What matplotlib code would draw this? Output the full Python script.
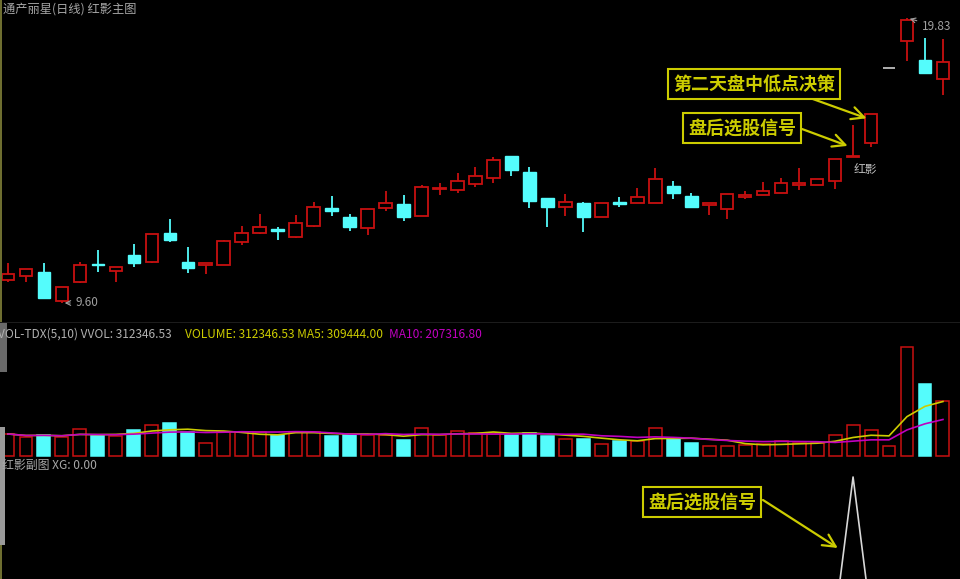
import numpy as np
import pandas as pd
import matplotlib
matplotlib.use('Agg')
import matplotlib.pyplot as plt
from matplotlib.patches import Rectangle

plt.rcParams['font.family'] = ['Noto Sans CJK SC', 'DejaVu Sans']

# daily bars
opens = [10.43, 10.57, 10.71, 9.67, 10.35, 11.01, 10.75, 11.32, 11.07, 12.11,
         11.07, 10.96, 10.96, 11.79, 12.11, 12.26, 11.97, 12.36, 13.01, 12.69,
         12.29, 13.01, 13.15, 12.72, 13.69, 13.66, 13.87, 14.09, 14.88, 14.30,
         13.37, 13.05, 13.19, 12.69, 13.23, 13.19, 13.19, 13.80, 13.44, 13.12,
         12.97, 13.41, 13.48, 13.55, 13.84, 13.84, 13.98, 14.84, 15.34, 18.04,
         19.01, 18.32, 17.64]
highs = [11.04, 10.82, 11.04, 10.17, 11.07, 11.50, 10.89, 11.72, 12.08, 12.62,
         11.61, 11.04, 11.86, 12.36, 12.79, 12.33, 12.76, 13.23, 13.44, 12.79,
         12.97, 13.62, 13.48, 13.84, 13.91, 14.27, 14.48, 14.84, 14.88, 14.48,
         13.37, 13.51, 13.23, 13.19, 13.41, 13.73, 14.45, 13.98, 13.55, 13.19,
         13.51, 13.62, 13.94, 14.09, 14.45, 14.05, 14.77, 15.99, 16.38, 18.04,
         19.83, 19.11, 19.08]
lows = [10.35, 10.35, 9.78, 9.60, 10.32, 10.71, 10.35, 10.89, 11.04, 11.79,
        10.68, 10.64, 10.96, 11.68, 12.08, 11.86, 11.93, 12.33, 12.72, 12.18,
        12.04, 12.90, 12.54, 12.72, 13.48, 13.55, 13.76, 13.91, 14.16, 13.01,
        12.33, 12.72, 12.15, 12.69, 13.05, 13.19, 13.19, 13.33, 13.05, 12.76,
        12.62, 13.33, 13.48, 13.55, 13.66, 13.84, 13.69, 14.84, 15.20, 18.04,
        18.29, 17.86, 17.07]
closes = [10.64, 10.82, 9.78, 10.17, 10.96, 10.96, 10.89, 11.04, 12.08, 11.86,
          10.86, 11.04, 11.83, 12.11, 12.33, 12.18, 12.47, 13.05, 12.90, 12.33,
          12.97, 13.19, 12.69, 13.76, 13.73, 13.98, 14.16, 14.73, 14.37, 13.26,
          13.05, 13.23, 12.69, 13.19, 13.15, 13.41, 14.05, 13.55, 13.05, 13.19,
          13.51, 13.48, 13.62, 13.91, 13.91, 14.05, 14.77, 14.88, 16.38, 18.04,
          19.76, 17.86, 18.25]
volumes = [125000, 108000, 119000, 108000, 153000, 119000, 114000, 148000, 176000, 187000,
           136000, 74000, 136000, 136000, 136000, 119000, 136000, 136000, 114000, 119000,
           119000, 119000, 91000, 159000, 119000, 142000, 131000, 131000, 119000, 131000,
           114000, 97000, 97000, 68000, 85000, 85000, 159000, 102000, 74000, 57000,
           57000, 62000, 68000, 85000, 74000, 74000, 117948, 175000, 148000, 57000,
           620873.47, 409000, 312346.53]
signal_day = 47          # 红影 candle
xg = [0.0] * len(closes)
xg[signal_day] = 1.0

RED = '#c81010'
CYAN = '#54fcfc'
YEL = '#cccc00'
MAG = '#c000c0'
GREY = '#bdbdbd'

n = len(closes)
x = np.arange(n)
o, h, l, c = map(np.array, (opens, highs, lows, closes))
v = np.array(volumes)
up = c >= o
ma5 = pd.Series(v).rolling(5, min_periods=1).mean().values
ma10 = pd.Series(v).rolling(10, min_periods=1).mean().values

W, H = 960, 579
fig = plt.figure(figsize=(W / 100, H / 100), dpi=100, facecolor='black')


def band(top, bottom):
    return [0, 1 - bottom / H, 1, (bottom - top) / H]


def fp(px, py):
    return px / W, 1 - py / H


ax_k = fig.add_axes(band(0, 322))
ax_v = fig.add_axes(band(322, 457))
ax_x = fig.add_axes(band(457, 579))
step, x0 = 17.98, 8
for ax in (ax_k, ax_v, ax_x):
    ax.set_axis_off()
    ax.set_xlim(-x0 / step, (W - x0) / step)

px_price = 10.23 / 285
ax_k.set_ylim(9.60 - 19 * px_price, 19.83 + 18 * px_price)
px_vol = 5680
ax_v.set_ylim(-px_vol, 134 * px_vol)
ax_x.set_ylim((619 - 579) / 142, (619 - 457) / 142)

# ---- candles
bw = 0.7
for i in range(n):
    if h[i] == l[i]:
        ax_k.hlines(c[i], i - bw / 2, i + bw / 2, color=GREY, lw=1.3)
        continue
    if up[i]:
        ax_k.vlines(i, l[i], h[i], color=RED, lw=1.3, zorder=2)
        ax_k.bar(i, max(c[i] - o[i], 0.02), bottom=o[i], width=bw,
                 facecolor='black', edgecolor=RED, lw=1.3, zorder=3)
    else:
        ax_k.vlines(i, l[i], h[i], color=CYAN, lw=1.3, zorder=2)
        ax_k.bar(i, max(o[i] - c[i], 0.02), bottom=c[i], width=bw,
                 facecolor=CYAN, edgecolor=CYAN, lw=1.0, zorder=3)

lo_i, hi_i = int(np.argmin(l)), int(np.argmax(h))
ax_k.annotate(f'{l[lo_i]:.2f}', xy=(lo_i, l[lo_i]), xytext=(10, 0),
              textcoords='offset points', color='#a0a0a0', fontsize=8.5,
              ha='left', va='center',
              arrowprops=dict(arrowstyle='->', color='#a0a0a0', lw=0.8))
ax_k.annotate(f'{h[hi_i]:.2f}', xy=(hi_i, h[hi_i]), xytext=(11, -6),
              textcoords='offset points', color='#a0a0a0', fontsize=8.5,
              ha='left', va='center',
              arrowprops=dict(arrowstyle='->', color='#a0a0a0', lw=0.8))
ax_k.text(signal_day + 0.7, l[signal_day] - 0.45, '红影', color=GREY,
          fontsize=8.5, ha='center', va='center')

# ---- volume
vol_col = [RED if u else CYAN for u in up]
ax_v.bar(x, v, width=0.72, facecolor=['none' if u else CYAN for u in up],
         edgecolor=vol_col, lw=1.1)
ax_v.plot(x, ma5, color=YEL, lw=1.2)
ax_v.plot(x, ma10, color=MAG, lw=1.2)

# ---- XG sub-chart
ax_x.plot(x, xg, color='#d8d8d8', lw=1.2)

# ---- header texts
hs = 8.6
fig.text(*fp(3, 9), '通产丽星(日线) 红影主图', color='#a8a8a8', fontsize=8.8,
         ha='left', va='center')
fig.text(*fp(-2, 334), f'VOL-TDX(5,10) VVOL: {v[-1]:.2f}', color='#b0b0b0',
         fontsize=hs, ha='left', va='center')
fig.text(*fp(185, 334), f'VOLUME: {v[-1]:.2f} MA5: {ma5[-1]:.2f}', color=YEL,
         fontsize=hs, ha='left', va='center')
fig.text(*fp(389, 334), f'MA10: {ma10[-1]:.2f}', color=MAG,
         fontsize=hs, ha='left', va='center')
fig.text(*fp(2, 465), f'红影副图 XG: {xg[-1]:.2f}', color='#a8a8a8',
         fontsize=hs, ha='left', va='center')

# ---- yellow call-outs
box = dict(boxstyle='square,pad=0.3', facecolor='black', edgecolor=YEL, lw=1.5)
arrow = dict(arrowstyle='->,head_length=0.9,head_width=0.45', color=YEL, lw=1.6,
             shrinkA=0, shrinkB=0)
cs = 13
fig.text(*fp(754, 84), '第二天盘中低点决策', color=YEL, fontsize=cs,
         fontweight='bold', ha='center', va='center', bbox=box)
fig.text(*fp(742, 128), '盘后选股信号', color=YEL, fontsize=cs,
         fontweight='bold', ha='center', va='center', bbox=box)
fig.text(*fp(702, 502), '盘后选股信号', color=YEL, fontsize=cs,
         fontweight='bold', ha='center', va='center', bbox=box)
ax_k.annotate('', xy=(signal_day + 1 - 0.25, c[signal_day + 1] - 0.15),
              xytext=(810, H - 98), textcoords='figure pixels', arrowprops=arrow)
ax_k.annotate('', xy=(signal_day - 0.3, h[signal_day] - 0.75),
              xytext=(802, H - 129), textcoords='figure pixels', arrowprops=arrow)
ax_x.annotate('', xy=(signal_day - 0.85, 0.5),
              xytext=(763, H - 500), textcoords='figure pixels', arrowprops=arrow)

# ---- window chrome on the left edge
fig.add_artist(Rectangle(fp(0, 322), 2 / W, 322 / H, transform=fig.transFigure,
                         color='#6e6e30', lw=0))
fig.add_artist(Rectangle(fp(0, 372), 7 / W, 50 / H, transform=fig.transFigure,
                         color='#6a6a6a', lw=0))
fig.add_artist(Rectangle(fp(0, 545), 5 / W, 118 / H, transform=fig.transFigure,
                         color='#9a9a9a', lw=0))
fig.add_artist(Rectangle(fp(0, 579), 2 / W, 34 / H, transform=fig.transFigure,
                         color='#6e6e30', lw=0))
fig.add_artist(Rectangle(fp(0, 323), 1, 1.5 / H, transform=fig.transFigure,
                         color='#1c1c1c', lw=0))

fig.savefig('out.png', dpi=100, facecolor='black')
